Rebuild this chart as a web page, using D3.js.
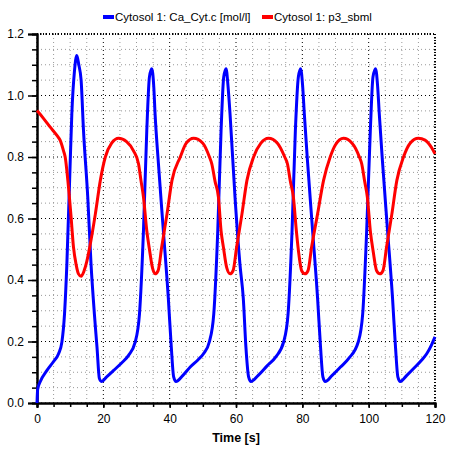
<!DOCTYPE html>
<html lang="en">
<head>
<meta charset="UTF-8">
<title>Cytosol</title>
<script src="https://cdn.jsdelivr.net/npm/d3@7"></script>
<style>
  body { margin: 0; background: #fff; }
  text { font-family: Tahoma, "Liberation Sans", "DejaVu Sans", sans-serif; }
</style>
</head>
<body>
<svg width="450" height="450"></svg>
<script>
// series names
var seriesNames = ["Cytosol 1: Ca_Cyt.c [mol/l]", "Cytosol 1: p3_sbml"];
var seriesColors = ["#0000ff", "#ff0000"];

// Ca_Cyt.c
var caTime = [0, 0.2, 1, 3, 5, 6.5, 7.5, 8.3, 9.0, 10.0, 10.5, 11.3, 12.0, 12.6, 13.3, 14.0, 15.3, 16.3, 17.3, 18.1, 18.8, 19.4,
  21, 23.1, 25.5, 27.6, 29.6, 30.9, 32.1, 33.1, 33.9, 34.6, 35.2, 35.6, 36.6, 38.1, 39.6, 40.5, 41.2, 41.9,
  44, 46.2, 48.5, 50.2, 52.0, 53.3, 54.5, 55.5, 56.3, 57.0, 57.6, 58.2, 59.7, 61.2, 62.2, 63.0, 63.8, 64.5,
  66.7, 69.3, 72, 74.4, 75.7, 76.9, 77.9, 78.8, 79.5, 80.1, 80.6, 81.6, 83.1, 84.6, 85.5, 86.2, 86.9,
  89, 91.5, 94, 96.9, 98.2, 99.4, 100.5, 101.3, 102.1, 102.7, 103.2, 104.2, 105.7, 107.2, 108.1, 108.8, 109.5,
  111.5, 114.0, 116, 117.5, 119, 120];
var caValue = [0, 0.045, 0.07, 0.106, 0.135, 0.16, 0.198, 0.29, 0.45, 0.78, 0.94, 1.08, 1.13, 1.10, 1.05, 0.89, 0.67, 0.45, 0.29, 0.18, 0.08, 0.07,
  0.085, 0.106, 0.13, 0.155, 0.198, 0.29, 0.56, 0.886, 1.06, 1.087, 1.03, 0.94, 0.78, 0.56, 0.34, 0.18, 0.085, 0.07,
  0.09, 0.117, 0.14, 0.16, 0.2, 0.29, 0.56, 0.886, 1.06, 1.087, 1.03, 0.94, 0.67, 0.45, 0.34, 0.18, 0.085, 0.07,
  0.09, 0.12, 0.15, 0.2, 0.29, 0.56, 0.886, 1.06, 1.087, 1.03, 0.94, 0.78, 0.56, 0.34, 0.18, 0.085, 0.07,
  0.09, 0.117, 0.145, 0.2, 0.29, 0.56, 0.886, 1.06, 1.087, 1.03, 0.94, 0.78, 0.56, 0.34, 0.18, 0.085, 0.07,
  0.09, 0.117, 0.14, 0.16, 0.19, 0.215];

// p3_sbml
var p3Time = [0, 2, 4, 6, 7, 8, 8.5, 9.3, 10.2, 11.0, 11.8, 12.5, 13.3, 14.2, 15.0, 15.9, 17.6, 19.1, 20.6, 22.5, 24.6,
  27, 29.1, 30.6, 31.4, 32.1, 33.1, 33.9, 34.8, 35.6, 36.5, 37.6, 39.2, 40.7, 43.2, 45, 47.2,
  50, 52.0, 52.7, 53.7, 54.7, 55.5, 56.2, 57.2, 58.2, 59.1, 60.2, 61.8, 63.3, 65.3, 67.5, 69.8,
  72.5, 74.7, 75.5, 76.4, 77.3, 78.2, 79.0, 79.8, 80.8, 81.7, 82.8, 84.6, 86.4, 88.4, 90, 92.4,
  95, 97.2, 97.9, 98.8, 99.6, 100.5, 101.4, 102.4, 103.4, 104.3, 105.4, 107.0, 108.5, 110.5, 112.5, 115.0,
  117, 119, 120];
var p3Value = [0.951, 0.925, 0.897, 0.87, 0.854, 0.82, 0.80, 0.724, 0.615, 0.507, 0.45, 0.42, 0.412, 0.43, 0.46, 0.507, 0.615, 0.724, 0.80, 0.845, 0.861,
  0.85, 0.82, 0.778, 0.72, 0.67, 0.56, 0.50, 0.44, 0.42, 0.43, 0.507, 0.615, 0.724, 0.80, 0.845, 0.861,
  0.845, 0.80, 0.778, 0.72, 0.67, 0.56, 0.507, 0.44, 0.42, 0.43, 0.507, 0.615, 0.724, 0.80, 0.845, 0.861,
  0.845, 0.80, 0.778, 0.72, 0.67, 0.56, 0.48, 0.43, 0.42, 0.43, 0.507, 0.615, 0.724, 0.80, 0.84, 0.861,
  0.845, 0.80, 0.778, 0.72, 0.67, 0.56, 0.49, 0.43, 0.42, 0.43, 0.507, 0.615, 0.724, 0.80, 0.845, 0.861,
  0.855, 0.83, 0.81];

// axis ticks
var xTicks = [0, 20, 40, 60, 80, 100, 120];
var yTicks = [0, 0.2, 0.4, 0.6, 0.8, 1.0, 1.2];
var xMinor = d3.range(0, 121, 5);
var yMinor = d3.range(0, 1.2001, 0.05);

var svg = d3.select("svg");
var pLeft = 37, pRight = 435, pTop = 34, pBottom = 403;

var x = d3.scaleLinear().domain([0, 120]).range([pLeft, pRight]);
var y = d3.scaleLinear().domain([0, 1.2]).range([pBottom, pTop]);

// grid: gray every minor step, black on the labelled ones
var grid = svg.append("g");
grid.selectAll(".gx").data(xMinor).enter().append("line")
    .attr("x1", function (d) { return x(d); }).attr("x2", function (d) { return x(d); })
    .attr("y1", pTop).attr("y2", pBottom)
    .attr("stroke", function (d) { return d % 20 === 0 ? "#000" : "#999"; })
    .attr("stroke-dasharray", "1,3");
grid.selectAll(".gy").data(yMinor).enter().append("line")
    .attr("x1", pLeft).attr("x2", pRight)
    .attr("y1", function (d) { return y(d); }).attr("y2", function (d) { return y(d); })
    .attr("stroke", function (d) { return Math.abs(d * 5 - Math.round(d * 5)) < 1e-6 ? "#000" : "#999"; })
    .attr("stroke-dasharray", "1,3");

// frame: top and right dotted
svg.append("line").attr("x1", pLeft).attr("x2", pRight).attr("y1", pTop).attr("y2", pTop)
    .attr("stroke", "#000").attr("stroke-width", 2).attr("stroke-dasharray", "1,2");
svg.append("line").attr("x1", pRight).attr("x2", pRight).attr("y1", pTop).attr("y2", pBottom)
    .attr("stroke", "#000").attr("stroke-width", 2).attr("stroke-dasharray", "1,2");

// axes
var xAxisMinor = d3.axisBottom(x).tickValues(xMinor).tickSize(4).tickFormat("");
var xAxis = d3.axisBottom(x).tickValues(xTicks).tickSize(5).tickPadding(6).tickFormat(d3.format("d"));
var yAxisMinor = d3.axisLeft(y).tickValues(yMinor).tickSize(5).tickFormat("");
var yAxis = d3.axisLeft(y).tickValues(yTicks).tickSize(9).tickPadding(4).tickFormat(d3.format(".1f"));

function style(g) {
  g.select(".domain").attr("stroke-width", 2);
  g.selectAll(".tick line").attr("stroke-width", 1.5);
  g.selectAll("text").attr("font-size", 12).attr("fill", "#000")
      .attr("font-family", "Tahoma, 'Liberation Sans', sans-serif");
}
svg.append("g").attr("transform", "translate(0," + pBottom + ")").call(xAxisMinor).call(style);
svg.append("g").attr("transform", "translate(0," + pBottom + ")").call(xAxis).call(style);
svg.append("g").attr("transform", "translate(" + pLeft + ",0)").call(yAxisMinor).call(style);
svg.append("g").attr("transform", "translate(" + pLeft + ",0)").call(yAxis).call(style);

svg.append("text").attr("x", (pLeft + pRight) / 2).attr("y", 442)
    .attr("text-anchor", "middle").attr("font-size", 12.5).attr("font-weight", "bold")
    .text("Time [s]");

// curves
var line = d3.line()
    .x(function (d) { return x(d[0]); })
    .y(function (d) { return y(d[1]); })
    .curve(d3.curveMonotoneX);

var plot = svg.append("g");
plot.append("path").datum(d3.zip(caTime, caValue))
    .attr("d", line).attr("fill", "none").attr("stroke", seriesColors[0]).attr("stroke-width", 3);
plot.append("path").datum(d3.zip(p3Time, p3Value))
    .attr("d", line).attr("fill", "none").attr("stroke", seriesColors[1]).attr("stroke-width", 3);

// legend
var legendX = [103, 262];
var legend = svg.append("g");
legend.selectAll("rect").data(seriesNames).enter().append("rect")
    .attr("x", function (d, i) { return legendX[i]; }).attr("y", 15)
    .attr("width", 11).attr("height", 4)
    .attr("fill", function (d, i) { return seriesColors[i]; });
legend.selectAll("text").data(seriesNames).enter().append("text")
    .attr("x", function (d, i) { return legendX[i] + 12; }).attr("y", 21)
    .attr("font-size", 11.5).attr("fill", "#000")
    .text(function (d) { return d; });
</script>
</body>
</html>
